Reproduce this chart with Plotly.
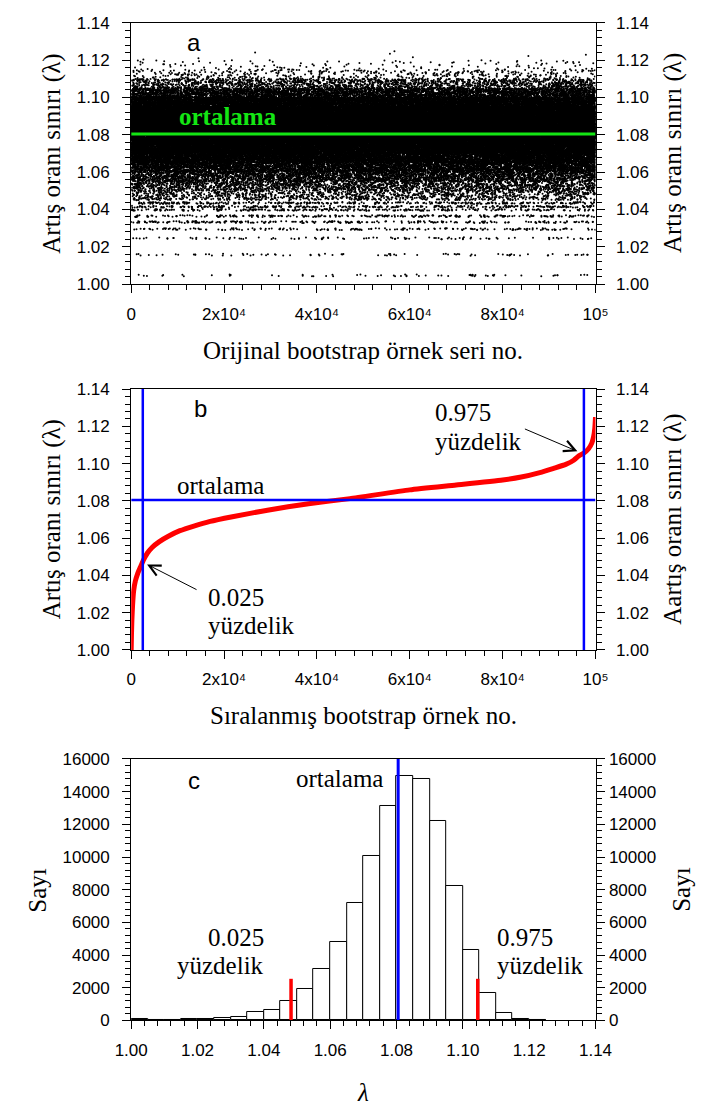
import numpy as np
import plotly.graph_objects as go

W, H = 701, 1115

# ---------------- data ----------------
# Panel c histogram: lower bin edges (lambda) and counts
BIN_LO = [1.000, 1.005, 1.010, 1.015, 1.020, 1.025, 1.030, 1.035, 1.040, 1.045,
          1.050, 1.055, 1.060, 1.065, 1.070, 1.075, 1.080, 1.085, 1.090, 1.095,
          1.100, 1.105, 1.110, 1.115, 1.120]
BIN_COUNTS = [60, 0, 0, 80, 100, 180, 240, 520, 640, 1185,
              1950, 3170, 4820, 7170, 10050, 13100, 14950, 14800, 12200, 8200,
              4307, 1710, 440, 120, 8]
BIN_W = 0.005

# Panel a: discrete lambda levels (streaks) visible in the sparse lower part (< 1.045)
LOW_LEVELS = [1.0047, 1.0158, 1.0246, 1.0295, 1.0333, 1.0365, 1.0398, 1.0415, 1.0435]
LOW_LEVEL_COUNTS = [60, 80, 100, 180, 240, 260, 260, 320, 320]
STREAK_HALF_WIDTH = 0.0005   # visible thickness of each streak
CONTINUOUS_FROM = 1.045

# Panel b: sorted bootstrap curve (rank, lambda)
SORTED_RANK = [0, 60, 150, 300, 550, 900, 1400, 2000, 2600, 3500, 4500, 6000, 8000,
               10500, 13500, 17000, 21800, 29350, 38200, 47100, 60000, 70000, 80000,
               84000, 88000, 91000, 93600, 95300, 96300, 97500, 98500, 99200, 99600,
               99850, 100000]
SORTED_LAMBDA = [1.000, 1.008, 1.016, 1.024, 1.032, 1.037, 1.041, 1.0445, 1.048, 1.052,
                 1.055, 1.058, 1.061, 1.064, 1.0665, 1.069, 1.0715, 1.075, 1.0785, 1.0812,
                 1.0859, 1.0885, 1.0912, 1.0928, 1.0952, 1.0975, 1.0996, 1.1018, 1.104,
                 1.1057, 1.108, 1.111, 1.1145, 1.119, 1.125]

N_SAMPLES = 100000
MEAN_LAMBDA = 1.0805
P025_LAMBDA = 1.0482
P975_LAMBDA = 1.1045
P025_RANK = 2500
P975_RANK = 97500
PCT_MARK_COUNT = 2550

LAMBDA_RANGE = [1.00, 1.14]
COUNT_RANGE = [0, 16000]
RANK_RANGE = [0, 100000]

RANK_TICKS = [0, 20000, 40000, 60000, 80000, 100000]
RANK_TICK_TEXT = ["0", "2x10⁴", "4x10⁴", "6x10⁴", "8x10⁴", "10⁵"]
LAMBDA_TICKS = [1.00, 1.02, 1.04, 1.06, 1.08, 1.10, 1.12, 1.14]
LAMBDA_TICK_TEXT = ["1.00", "1.02", "1.04", "1.06", "1.08", "1.10", "1.12", "1.14"]
COUNT_TICKS = [0, 2000, 4000, 6000, 8000, 10000, 12000, 14000, 16000]
COUNT_TICK_TEXT = [str(v) for v in COUNT_TICKS]

# ---------------- panel a point cloud built from the histogram ----------------
# every sample value comes from the histogram bins / visible streak levels above;
# only the (arbitrary) bootstrap order along x is a deterministic scrambling.
parts = []
for lv, c in zip(LOW_LEVELS, LOW_LEVEL_COUNTS):
    parts.append(lv + STREAK_HALF_WIDTH * (2 * (np.arange(c) + 0.5) / c - 1))
for lo, c in zip(BIN_LO, BIN_COUNTS):
    if lo < CONTINUOUS_FROM - 1e-9 or c == 0:
        continue
    parts.append(lo + BIN_W * (np.arange(c) + 0.5) / c)
y_cloud = np.concatenate(parts).astype(np.float32)
n_cloud = len(y_cloud)


def scramble(k):
    z = k.astype(np.uint64) + np.uint64(0x9E3779B97F4A7C15)
    z = (z ^ (z >> np.uint64(30))) * np.uint64(0xBF58476D1CE4E5B9)
    z = (z ^ (z >> np.uint64(27))) * np.uint64(0x94D049BB133111EB)
    return z ^ (z >> np.uint64(31))


with np.errstate(over="ignore"):
    order = np.argsort(scramble(np.arange(n_cloud)))
x_cloud = np.empty(n_cloud, dtype=np.int32)
x_cloud[order] = np.arange(n_cloud)

# ---------------- styling ----------------
SANS = "Liberation Sans, Arial, sans-serif"
SERIF = "Liberation Serif, Times New Roman, serif"
TICKFONT = dict(family=SANS, size=17, color="black")
TITLE_SIZE = 25
BLUE = "#0000ff"
RED = "#ff0000"
GREEN = "#14e614"

PX_L, PX_R = 120, 608
PANELS = [(14, 280), (386.7, 652), (763, 1029)]


def fx(px):
    return px / W


def fy(py):
    return 1 - py / H


xdom = [fx(PX_L), fx(PX_R)]

fig = go.Figure()

# panel a
fig.add_trace(go.Scatter(x=x_cloud, y=y_cloud, mode="markers",
                         marker=dict(size=2, color="black", line=dict(width=0)),
                         xaxis="x", yaxis="y", hoverinfo="skip"))
fig.add_trace(go.Scatter(x=RANK_RANGE, y=[MEAN_LAMBDA, MEAN_LAMBDA], mode="lines",
                         line=dict(color=GREEN, width=3), xaxis="x", yaxis="y2",
                         hoverinfo="skip"))
# panel b
fig.add_trace(go.Scatter(x=SORTED_RANK, y=SORTED_LAMBDA, mode="lines",
                         line=dict(color=RED, width=5, shape="spline", smoothing=0.5),
                         xaxis="x2", yaxis="y3", hoverinfo="skip"))
fig.add_trace(go.Scatter(x=RANK_RANGE, y=[MEAN_LAMBDA, MEAN_LAMBDA], mode="lines",
                         line=dict(color=BLUE, width=2.5), xaxis="x2", yaxis="y4",
                         hoverinfo="skip"))
for r in (P025_RANK, P975_RANK):
    fig.add_trace(go.Scatter(x=[r, r], y=LAMBDA_RANGE, mode="lines",
                             line=dict(color=BLUE, width=2.5), xaxis="x2", yaxis="y3",
                             hoverinfo="skip"))
# panel c
centers = [lo + BIN_W / 2 for lo in BIN_LO]
fig.add_trace(go.Bar(x=centers, y=BIN_COUNTS, width=BIN_W,
                     marker=dict(color="white", line=dict(color="black", width=1)),
                     xaxis="x3", yaxis="y5", hoverinfo="skip"))
fig.add_trace(go.Scatter(x=[MEAN_LAMBDA, MEAN_LAMBDA], y=COUNT_RANGE, mode="lines",
                         line=dict(color=BLUE, width=3), xaxis="x3", yaxis="y6",
                         hoverinfo="skip"))
for p in (P025_LAMBDA, P975_LAMBDA):
    fig.add_trace(go.Scatter(x=[p, p], y=[0, PCT_MARK_COUNT], mode="lines",
                             line=dict(color=RED, width=3.5), xaxis="x3", yaxis="y5",
                             hoverinfo="skip"))


def minor(dtick, tick0):
    return dict(ticks="outside", ticklen=5, tickwidth=1, tickcolor="black",
                dtick=dtick, tick0=tick0, showgrid=False)


def xaxis(anchor, rng, tv, tt, mdt, m0):
    return dict(domain=xdom, anchor=anchor, range=rng, tickmode="array",
                tickvals=tv, ticktext=tt, showline=True, linecolor="black",
                linewidth=1, mirror=True, ticks="outside", ticklen=8, tickwidth=1,
                tickcolor="black", showgrid=False, zeroline=False, tickfont=TICKFONT,
                minor=minor(mdt, m0), fixedrange=True, ticklabelstandoff=6)


def yaxis(ydom, anchor, rng, tv, tt, mdt, m0, side="left", overlay=None, standoff=9):
    d = dict(anchor=anchor, range=rng, tickmode="array", tickvals=tv, ticktext=tt,
             showline=True, linecolor="black", linewidth=1, ticks="outside",
             ticklen=8, tickwidth=1, tickcolor="black", showgrid=False,
             zeroline=False, tickfont=TICKFONT, minor=minor(mdt, m0), side=side,
             fixedrange=True, ticklabelstandoff=standoff)
    if overlay:
        d["overlaying"] = overlay
    else:
        d["domain"] = ydom
    return d


lam_rng = [LAMBDA_RANGE[0], LAMBDA_RANGE[1] + 1e-9]
cnt_rng = [COUNT_RANGE[0], COUNT_RANGE[1] + 1e-6]
rank_rng = [RANK_RANGE[0], RANK_RANGE[1] + 1e-6]

doms = [[fy(b), fy(t)] for t, b in PANELS]

layout = dict(
    width=W, height=H, autosize=False, margin=dict(l=0, r=0, t=0, b=0),
    paper_bgcolor="white", plot_bgcolor="white", showlegend=False, bargap=0,
    xaxis=xaxis("y", rank_rng, RANK_TICKS, RANK_TICK_TEXT, 4000, 0),
    yaxis=yaxis(doms[0], "x", lam_rng, LAMBDA_TICKS, LAMBDA_TICK_TEXT, 0.004, 1.0),
    yaxis2=yaxis(None, "x", lam_rng, LAMBDA_TICKS, LAMBDA_TICK_TEXT, 0.004, 1.0,
                 side="right", overlay="y", standoff=8),
    xaxis2=xaxis("y3", rank_rng, RANK_TICKS, RANK_TICK_TEXT, 4000, 0),
    yaxis3=yaxis(doms[1], "x2", lam_rng, LAMBDA_TICKS, LAMBDA_TICK_TEXT, 0.004, 1.0),
    yaxis4=yaxis(None, "x2", lam_rng, LAMBDA_TICKS, LAMBDA_TICK_TEXT, 0.004, 1.0,
                 side="right", overlay="y3", standoff=8),
    xaxis3=xaxis("y5", lam_rng, LAMBDA_TICKS, LAMBDA_TICK_TEXT, 0.004, 1.0),
    yaxis5=yaxis(doms[2], "x3", cnt_rng, COUNT_TICKS, COUNT_TICK_TEXT, 400, 0),
    yaxis6=yaxis(None, "x3", cnt_rng, COUNT_TICKS, COUNT_TICK_TEXT, 400, 0,
                 side="right", overlay="y5", standoff=1),
)
fig.update_layout(**layout)

ann = []


def text(px, py, s, size=TITLE_SIZE, family=SERIF, angle=0, xanchor="center",
         color="black", bold=False):
    if bold:
        s = "<b>" + s + "</b>"
    ann.append(dict(x=fx(px), y=fy(py), xref="paper", yref="paper", text=s,
                    showarrow=False, textangle=angle, xanchor=xanchor,
                    yanchor="middle", font=dict(family=family, size=size, color=color)))


YT = "Artış oranı sınırı (λ)"
# panel a
text(186.5, 34, "a", size=24, family=SANS)
text(222, 109, "ortalama", color=GREEN, bold=True)
text(364, 347, "Orijinal bootstrap örnek seri no.")
text(37, 147, YT, angle=-90)
text(690, 147, YT, angle=-90)
# panel b
text(192.5, 406, "b", size=24, family=SANS)
text(214, 485, "ortalama")
text(199, 599, "0.025", xanchor="left")
text(199, 627, "yüzdelik", xanchor="left")
text(437, 411, "0.975", xanchor="left")
text(437, 440, "yüzdelik", xanchor="left")
text(364, 719, "Sıralanmış bootstrap örnek no.")
text(37, 519, YT, angle=-90)
text(690, 519, "Aartış oranı sınırı (λ)", angle=-90)
# panel c
text(186.5, 785, "c", size=24, family=SANS)
text(339, 783, "ortalama")
text(262, 945, "0.025", xanchor="right")
text(262, 973, "yüzdelik", xanchor="right")
text(502, 945, "0.975", xanchor="left")
text(502, 973, "yüzdelik", xanchor="left")
text(364, 1102, "<i>λ</i>")
text(22, 896, "Sayı", angle=-90)
text(699, 896, "Sayı", angle=-90)

# arrows in panel b (head in data coordinates, tail offset in pixels)
ann.append(dict(x=3420, y=1.0459, xref="x2", yref="y3", text="", showarrow=True,
                ax=51, ay=26, arrowhead=5, arrowsize=2.2, arrowwidth=1,
                arrowcolor="black"))
ann.append(dict(x=96100, y=1.1066, xref="x2", yref="y3", text="", showarrow=True,
                ax=-54, ay=-23, arrowhead=5, arrowsize=2.2, arrowwidth=1,
                arrowcolor="black"))

fig.update_layout(annotations=ann)
fig.write_html("out.html")
